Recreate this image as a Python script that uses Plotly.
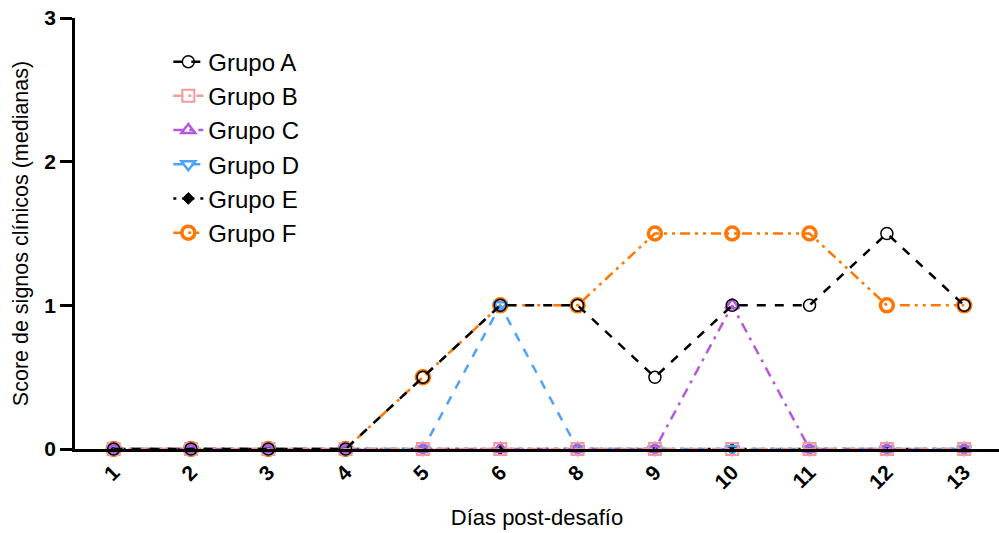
import plotly.graph_objects as go

days = ["1", "2", "3", "4", "5", "6", "8", "9", "10", "11", "12", "13"]
grupo_a = [0, 0, 0, 0, 0.5, 1, 1, 0.5, 1, 1, 1.5, 1]
grupo_b = [0, 0, 0, 0, 0, 0, 0, 0, 0, 0, 0, 0]
grupo_c = [0, 0, 0, 0, 0, 0, 0, 0, 1, 0, 0, 0]
grupo_d = [0, 0, 0, 0, 0, 1, 0, 0, 0, 0, 0, 0]
grupo_e = [0, 0, 0, 0, 0, 0, 0, 0, 0, 0, 0, 0]
grupo_f = [0, 0, 0, 0, 0.5, 1, 1, 1.5, 1.5, 1.5, 1, 1]

series = [
    ("Grupo A", grupo_a, "#000000", "circle-open", 12, 1.5, "dash", 1),
    ("Grupo B", grupo_b, "#F59A9A", "square-open", 12, 2, "10px,5px,3px,5px", 2),
    ("Grupo C", grupo_c, "#B556DC", "triangle-up-open", 12, 2.5, "10px,6px,3px,6px", 3),
    ("Grupo D", grupo_d, "#4DA3FA", "triangle-down-open", 12, 2.5, "dash", 4),
    ("Grupo E", grupo_e, "#000000", "diamond", 9, 1, "3px,6px", 5),
    ("Grupo F", grupo_f, "#FF7700", "circle-open", 13, 3.5, "10px,5px,3px,5px,3px,5px", 6),
]

fig = go.Figure()
for name, vals, color, sym, size, lw, dash, rank in reversed(series):
    fig.add_trace(go.Scatter(
        x=days, y=vals, name=name, mode="lines+markers",
        line=dict(color=color, width=2.5, dash=dash),
        marker=dict(symbol=sym, size=size, color=color, line=dict(color=color, width=lw)),
        legendrank=rank, cliponaxis=False,
    ))

fig.update_layout(
    width=999, height=533,
    margin=dict(l=75, r=0, t=18, b=84),
    plot_bgcolor="white", paper_bgcolor="white",
    font=dict(family="Liberation Sans, Arial, sans-serif", color="black"),
    showlegend=True,
    legend=dict(x=0.101, y=0.95, xanchor="left", yanchor="top",
                font=dict(size=24), itemwidth=30, bgcolor="rgba(0,0,0,0)",
                tracegroupgap=0),
    xaxis=dict(
        type="category", range=[-0.5, 11.45],
        showline=True, linecolor="black", linewidth=2.5,
        ticks="", tickangle=-45,
        tickfont=dict(size=21, family="Liberation Sans, Arial, sans-serif", weight="bold"),
        title=dict(text="Días post-desafío", font=dict(size=22), standoff=18),
        showgrid=False, zeroline=False,
    ),
    yaxis=dict(
        range=[0, 3], tickvals=[0, 1, 2, 3],
        showline=True, linecolor="black", linewidth=2.5,
        ticks="outside", ticklen=12, tickwidth=2.5, tickcolor="black",
        tickfont=dict(size=21, family="Liberation Sans, Arial, sans-serif", weight="bold"),
        title=dict(text="Score de signos clínicos (medianas)", font=dict(size=21.5), standoff=10),
        showgrid=False, zeroline=False,
    ),
)

fig.write_html("out.html")
